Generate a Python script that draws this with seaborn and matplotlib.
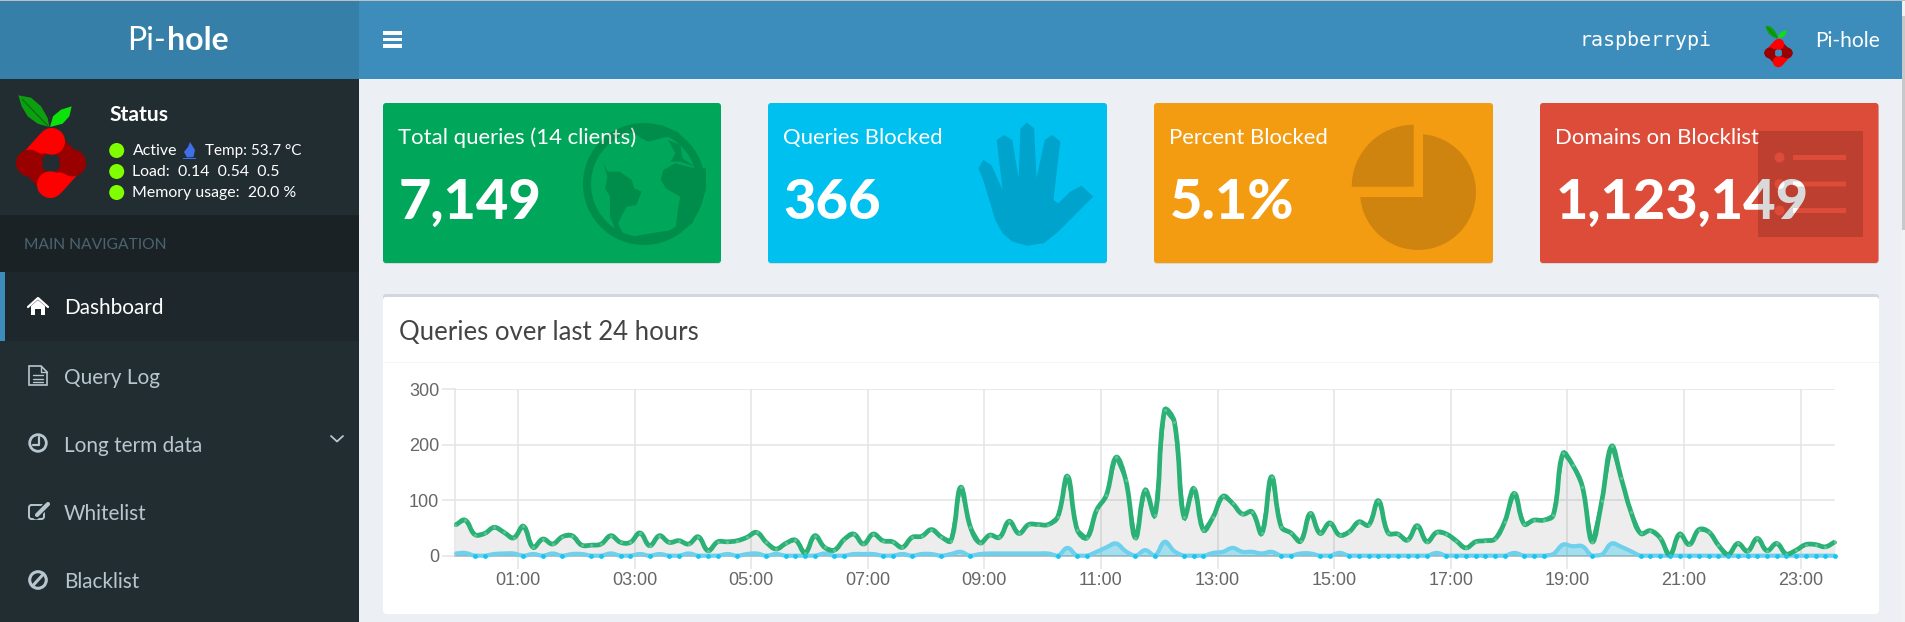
import numpy as np
import pandas as pd
import matplotlib
matplotlib.use("Agg")
import matplotlib.pyplot as plt
from matplotlib.patches import Rectangle, FancyBboxPatch, Circle, Polygon, PathPatch
from matplotlib.path import Path
import seaborn as sns

# values, one per 10 minutes
total_queries = [55, 64, 38, 40, 51, 42, 32, 53, 15, 30, 21, 34, 36, 19, 19, 21, 36, 24, 24, 41,
                 18, 36, 24, 27, 21, 34, 9, 25, 25, 27, 33, 42, 24, 12, 22, 28, 5, 36, 15, 10,
                 29, 39, 21, 39, 27, 25, 15, 33, 35, 47, 34, 27, 123, 52, 23, 37, 33, 62, 40, 56,
                 56, 56, 70, 143, 47, 32, 82, 109, 177, 136, 32, 118, 73, 262, 241, 69, 121, 46, 70, 107,
                 94, 75, 79, 40, 142, 52, 41, 26, 76, 40, 59, 37, 43, 61, 55, 99, 41, 39, 28, 54,
                 25, 42, 39, 27, 14, 25, 27, 30, 61, 112, 57, 64, 64, 73, 184, 163, 124, 25, 99, 197,
                 139, 79, 40, 45, 32, 1, 39, 20, 47, 43, 19, 2, 22, 8, 31, 9, 22, 3, 10, 20,
                 20, 16, 25]
blocked_queries = [4, 5, 0, 0, 3, 4, 4, 0, 3, 0, 4, 0, 3, 3, 0, 0, 4, 0, 0, 3,
                   0, 3, 0, 0, 4, 0, 0, 0, 3, 0, 3, 4, 0, 3, 0, 0, 0, 0, 4, 0,
                   0, 3, 3, 3, 0, 0, 3, 0, 3, 3, 0, 3, 7, 0, 3, 4, 4, 4, 4, 4,
                   4, 4, 0, 14, 0, 0, 7, 15, 22, 8, 0, 10, 0, 25, 8, 0, 0, 0, 5, 7,
                   14, 7, 7, 4, 7, 0, 0, 4, 4, 0, 0, 5, 0, 0, 0, 0, 0, 0, 0, 0,
                   0, 5, 0, 0, 0, 0, 0, 0, 0, 5, 0, 0, 0, 3, 20, 17, 17, 0, 2, 22,
                   16, 8, 0, 0, 0, 0, 0, 0, 0, 0, 0, 0, 0, 0, 0, 0, 0, 0, 0, 0,
                   0, 0, 0]
hour_ticks = [1, 3, 5, 7, 9, 11, 13, 15, 17, 19, 21, 23]
hour_labels = ["01:00", "03:00", "05:00", "07:00", "09:00", "11:00", "13:00", "15:00", "17:00", "19:00", "21:00", "23:00"]
y_ticks = [0, 100, 200, 300]

card_titles = ["Total queries (14 clients)", "Queries Blocked", "Percent Blocked", "Domains on Blocklist"]
card_values = ["7,149", "366", "5.1%", "1,123,149"]
menu_items = ["Dashboard", "Query Log", "Long term data", "Whitelist", "Blacklist"]

W, H = 1906, 622
UI_FONT = "Lato"

sns.set_style("white")
fig = plt.figure(figsize=(W / 100, H / 100), dpi=100, facecolor="#ecf0f5")

# the page itself is drawn in pixel coordinates on one big axes
page = fig.add_axes([0, 0, 1, 1], zorder=0)
page.set_xlim(0, W)
page.set_ylim(H, 0)
page.axis("off")


def rect(x0, y0, x1, y1, color, z=1, alpha=None):
    page.add_patch(Rectangle((x0, y0), x1 - x0, y1 - y0, fc=color, ec="none", zorder=z, alpha=alpha))


def rbox(x0, y0, x1, y1, color, z=1, r=3):
    page.add_patch(FancyBboxPatch((x0, y0), x1 - x0, y1 - y0, boxstyle=f"round,pad=0,rounding_size={r}",
                                  fc=color, ec="none", zorder=z))


def label(x, y, s, px, color="white", weight="normal", ha="left", family=UI_FONT, z=5):
    page.text(x, y, s, fontsize=px * 0.72, color=color, fontweight=weight, ha=ha, va="center",
              family=family, zorder=z)


def ring(cx, cy, r, n=80):
    t = np.linspace(0, 2 * np.pi, n, endpoint=False)
    return np.column_stack([cx + r * np.cos(t), cy + r * np.sin(t)])


def compound(outer, holes=()):
    # one path so overlapping parts do not darken twice, holes wound the other way
    def wound(p, sign):
        p = np.asarray(p, float)
        area = np.sum(p[:, 0] * np.roll(p[:, 1], -1) - np.roll(p[:, 0], -1) * p[:, 1])
        return p if area * sign > 0 else p[::-1]
    verts, codes = [], []
    for p, sign in [(q, 1) for q in outer] + [(q, -1) for q in holes]:
        p = wound(p, sign)
        verts += list(p) + [p[0]]
        codes += [Path.MOVETO] + [Path.LINETO] * (len(p) - 1) + [Path.CLOSEPOLY]
    return Path(np.array(verts), codes)


def shade(path, z=6):
    page.add_patch(PathPatch(path, fc="black", ec="none", alpha=0.15, zorder=z))


def z5(pts):
    return [(370 + x / 2.063, 90 + y / 3) for x, y in pts]


def draw_logo(cx, cy, s, bg):
    def pts(lst):
        return [(cx + x * s, cy + y * s) for x, y in lst]
    head_r = 40 * s
    dark = [(-92, 0), (0, -92), (92, 0), (0, 92)]
    page.add_patch(Polygon(pts(dark), fc="#990000", ec="#990000", lw=25 * s * 0.72, joinstyle="round", zorder=3))
    top_tail = [(-104, -8), (-32, -88), (0, -105), (5, -30), (-30, -28), (-60, -40)]
    bot_tail = [(-x, -y) for x, y in top_tail]
    page.add_patch(Polygon(pts(top_tail), fc="#ff0000", ec="none", zorder=4))
    page.add_patch(Polygon(pts(bot_tail), fc="#ff0000", ec="none", zorder=4))
    page.add_patch(Circle((cx, cy), 29 * s, fc=bg, ec="none", zorder=5))
    page.add_patch(Circle((cx + 2 * s, cy - 65 * s), head_r, fc="#ff0000", ec="none", zorder=6))
    page.add_patch(Circle((cx - 2 * s, cy + 65 * s), head_r, fc="#ff0000", ec="none", zorder=6))
    page.add_patch(Circle((cx - 65 * s, cy), head_r, fc="#990000", ec="none", zorder=6))
    page.add_patch(Circle((cx + 65 * s, cy), head_r, fc="#990000", ec="none", zorder=6))
    leaf_l = [(-98, -203), (-60, -196), (-30, -170), (-10, -135), (-5, -108), (-40, -118), (-70, -140), (-88, -170)]
    leaf_r = [(-3, -108), (6, -140), (30, -160), (62, -170), (55, -140), (35, -118)]
    page.add_patch(Polygon(pts(leaf_l), fc="#0c9f10", ec="none", zorder=4))
    page.add_patch(Polygon(pts(leaf_r), fc="#0be30b", ec="none", zorder=4))
    page.plot(*zip(*pts([(-85, -190), (-8, -110)])), color="#0a6a0c", lw=0.8 * s * 3, zorder=5)


def bezier_path(xs, ys, tension=0.4):
    # same curve the web chart uses, distances measured in screen pixels
    xs = np.asarray(xs, float)
    ys = np.asarray(ys, float)
    sx, sy = 58.3, 0.5557
    n = len(xs)
    verts = [(xs[0], ys[0])]
    codes = [Path.MOVETO]
    out_c = [None] * n
    in_c = [None] * n
    for i in range(n):
        a, b = max(i - 1, 0), min(i + 1, n - 1)
        d0 = np.hypot((xs[i] - xs[a]) * sx, (ys[i] - ys[a]) * sy)
        d1 = np.hypot((xs[b] - xs[i]) * sx, (ys[b] - ys[i]) * sy)
        tot = max(d0 + d1, 1e-6)
        dx, dy = xs[b] - xs[a], ys[b] - ys[a]
        in_c[i] = (xs[i] - tension * d0 / tot * dx, max(ys[i] - tension * d0 / tot * dy, 0))
        out_c[i] = (xs[i] + tension * d1 / tot * dx, max(ys[i] + tension * d1 / tot * dy, 0))
    for i in range(n - 1):
        verts += [out_c[i], in_c[i + 1], (xs[i + 1], ys[i + 1])]
        codes += [Path.CURVE4] * 3
    return Path(verts, codes)


# header and sidebar
rect(0, 0, W, 1, "#bfbfbf", z=4)
rect(0, 0, 359, 79, "#367fa9")
rect(359, 0, W, 79, "#3c8dbc")
rect(0, 79, 359, H, "#222d32")
rect(0, 215, 359, 272, "#1a2226")
rect(0, 272, 359, 341, "#1e282c")
rect(0, 272, 5, 341, "#3c8dbc")
rect(1902, 0, W, H, "#f1f1f1", z=2)
rect(1902, 16, W, 230, "#c8c8c8", z=3)

label(166, 41, "Pi-", 32, ha="right")
label(167, 41, "hole", 32, weight="bold")
for yy in [33, 39.5, 46]:
    rect(383, yy - 1.7, 402, yy + 1.7, "white")
label(1580, 41, "raspberrypi", 20, family="DejaVu Sans Mono")
draw_logo(1778.5, 53, 0.135, "#3c8dbc")
label(1815, 41, "Pi-hole", 21)

draw_logo(51, 163, 1 / 3, "#222d32")
label(110, 115, "Status", 21, weight="bold")
for yy, s in zip([151, 172, 193], ["Active", "Load:  0.14  0.54  0.5", "Memory usage:  20.0 %"]):
    page.add_patch(Circle((116.7, yy - 0.5), 7.5, fc="#7fff00", ec="none", zorder=3))
    label(132.5, yy, s, 15.9)
label(205, 151, "Temp: 53.7 °C", 15.3)
page.add_patch(Polygon([(190, 142), (195, 150), (193.5, 157), (187, 157.5), (184, 152), (188, 147)], fc="#3f6fe8", ec="none", zorder=4))
rect(183, 158, 196, 159, "#3f6fe8", z=4)
label(24, 245, "MAIN NAVIGATION", 15.6, color="#4b646f")

menu_y = [308, 378, 446, 514, 582]
for i, (yy, s) in enumerate(zip(menu_y, menu_items)):
    label(64, yy, s, 20.8, color="white" if i == 0 else "#b8c7ce")
ICON = "#b8c7ce"
page.add_patch(Polygon([(31, 306), (38, 300), (45, 306), (45, 315), (41, 315), (41, 309), (35, 309), (35, 315), (31, 315)], fc="white", ec="none", zorder=4))
page.plot([28, 38, 48], [307, 298, 307], color="white", lw=1.6, zorder=4)
page.add_patch(Polygon([(29, 366), (41, 366), (47, 372), (47, 385), (29, 385)], fc="none", ec=ICON, lw=1.2, zorder=4))
for yy in [375, 378.5, 382]:
    page.plot([33, 43], [yy, yy], color=ICON, lw=1, zorder=4)
page.plot([41, 41, 47], [366, 372, 372], color=ICON, lw=1, zorder=4)
page.add_patch(Circle((38, 443), 8.3, fc="none", ec=ICON, lw=2, zorder=4))
page.plot([39, 39, 33], [437, 445, 445], color=ICON, lw=1.6, zorder=4)
page.add_patch(FancyBboxPatch((29, 505), 15, 14, boxstyle="round,pad=0,rounding_size=2.5", fc="none", ec=ICON, lw=1.4, zorder=4))
page.plot([36, 48], [516, 504], color="#222d32", lw=5, zorder=4)
page.plot([37, 48], [515, 504], color=ICON, lw=3, zorder=5)
page.add_patch(Circle((38, 580), 8.3, fc="none", ec=ICON, lw=2.2, zorder=4))
page.plot([32.5, 43.5], [586, 574], color=ICON, lw=2.2, zorder=4)
page.plot([331, 337, 343], [436, 441.5, 436], color=ICON, lw=1.3, zorder=4)

# small boxes
card_x = [(383, 721), (768, 1107), (1154, 1493), (1540, 1878.5)]
card_colors = ["#00a65a", "#00c0ef", "#f39c12", "#dd4b39"]
for (x0, x1), c, title, val in zip(card_x, card_colors, card_titles, card_values):
    page.add_patch(FancyBboxPatch((x0, 104), x1 - x0, 160, boxstyle="round,pad=0,rounding_size=3",
                                  fc="#d5d9df", ec="none", zorder=1))
    rbox(x0, 103, x1, 263, c, z=2)
    label(x0 + 15.5, 138, title, 22.1)
    label(x0 + 15.5, 203, val, 56, weight=900)

# globe
land = [
    [(480, 215), (490, 245), (515, 245), (540, 270), (545, 295), (560, 305), (550, 345), (530, 350), (520, 375),
     (512, 400), (522, 432), (505, 415), (495, 380), (495, 320), (485, 295), (490, 260)],
    [(605, 240), (630, 220), (670, 235), (693, 235), (693, 300), (665, 400), (625, 440), (590, 450), (540, 440), (600, 425),
     (630, 420), (635, 360), (640, 320), (610, 295), (600, 270)],
    [(530, 115), (570, 120), (600, 105), (640, 130), (575, 155), (560, 145)],
    [(615, 150), (640, 165), (645, 205), (670, 230), (640, 215), (620, 215), (630, 190)],
]
shade(compound([ring(644, 184, 61)] + [z5(p) for p in land], [ring(644, 184, 53)]))
# hand
hand = [(1355, 467), (1325, 455), (1305, 430), (1290, 390), (1265, 270), (1255, 235), (1265, 210), (1282, 225), (1305, 300),
        (1293, 150), (1308, 135), (1325, 150), (1338, 265), (1342, 115), (1355, 98), (1370, 115), (1375, 265),
        (1392, 150), (1408, 135), (1424, 155), (1410, 330), (1420, 340), (1445, 305), (1468, 287), (1492, 320),
        (1420, 425), (1390, 460)]
shade(compound([z5(hand)]))
# pie
t = np.radians(np.linspace(-85, 175, 70))
pie = np.vstack([np.column_stack([1418 + 58 * np.cos(t), 192 + 58 * np.sin(t)]), [[1423, 197]]])
t = np.radians(np.linspace(180, 270, 30))
slice_ = np.vstack([np.column_stack([1413.7 + 62 * np.cos(t), 186.7 + 62 * np.sin(t)]), [[1413.7, 186.7]]])
shade(compound([pie]))
shade(compound([slice_]))
# list
sheet = [(1758, 131), (1863, 131), (1863, 237), (1758, 237)]
gaps = []
for yy in [157.5, 184, 210.5]:
    gaps.append(ring(1779.5, yy, 5, 24))
    gaps.append([(1793, yy - 2.5), (1846, yy - 2.5), (1846, yy + 2.5), (1793, yy + 2.5)])
shade(compound([sheet], gaps))

# chart box
rbox(383, 294, 1879, 614, "#d2d6de", z=1)
rbox(383, 297, 1879, 614, "white", z=2)
rect(383, 362, 1879, 363, "#f4f4f4", z=3)
label(399, 332, "Queries over last 24 hours", 25.8, color="#444444")

# chart, 10 minute bins centred 5 minutes before the hour mark
df = pd.DataFrame({"hour": -0.075 + np.arange(len(total_queries)) / 6,
                   "total": total_queries, "blocked": blocked_queries})

x0, x1, y0, y1 = 455.4, 1835, 389, 555.7
ax = fig.add_axes([x0 / W, 1 - y1 / H, (x1 - x0) / W, (y1 - y0) / H], zorder=2)
ax.patch.set_alpha(0)
ax.fill_between(df["hour"], df["total"], color="black", alpha=0.07, lw=0, zorder=2)
ax.fill_between(df["hour"], df["blocked"], color="#00c0ef", alpha=0.3, lw=0, zorder=3)
sns.lineplot(data=df, x="hour", y="total", color="#2bb176", lw=2, solid_joinstyle="round", clip_on=False, ax=ax, zorder=5)
sns.lineplot(data=df, x="hour", y="blocked", color="#6fd0ec", lw=2, solid_joinstyle="round", clip_on=False, ax=ax, zorder=4)
# the page smooths its lines, so the curve goes over the straight segments
ax.add_patch(PathPatch(bezier_path(df["hour"], df["total"]), fc="none", ec="#2bb176", lw=3.4, clip_on=False, zorder=5))
ax.add_patch(PathPatch(bezier_path(df["hour"], df["blocked"]), fc="none", ec="#6fd0ec", lw=3.0, clip_on=False, zorder=4))
sns.scatterplot(data=df, x="hour", y="total", color="#5cc493", s=5, linewidth=0, clip_on=False, ax=ax, zorder=6)
sns.scatterplot(data=df[df["blocked"] == 0], x="hour", y="blocked", color="#19c4ef", s=12, linewidth=0, clip_on=False, ax=ax, zorder=6)

ax.set_xlim(df["hour"].iloc[0], df["hour"].iloc[-1])
ax.set_ylim(0, 300)
ax.set_xticks(hour_ticks, hour_labels)
ax.set_yticks(y_ticks)
ax.set_xlabel("")
ax.set_ylabel("")
ax.grid(True, color="#e4e4e4", lw=1.1, zorder=0)
ax.set_axisbelow(True)
for side in ["top", "right"]:
    ax.spines[side].set_visible(False)
ax.spines["left"].set_color("#e4e4e4")
ax.spines["left"].set_linewidth(1.1)
ax.spines["bottom"].set_color("#b4b4b4")
ax.spines["bottom"].set_linewidth(1.1)
ax.tick_params(axis="both", color="#e4e4e4", width=1.1, length=9.2, pad=2.5, labelcolor="#666666", labelsize=13, bottom=True, left=True)
for t in ax.get_xticklabels() + ax.get_yticklabels():
    t.set_family("Liberation Sans")

fig.savefig("out.png", dpi=100, facecolor=fig.get_facecolor())
